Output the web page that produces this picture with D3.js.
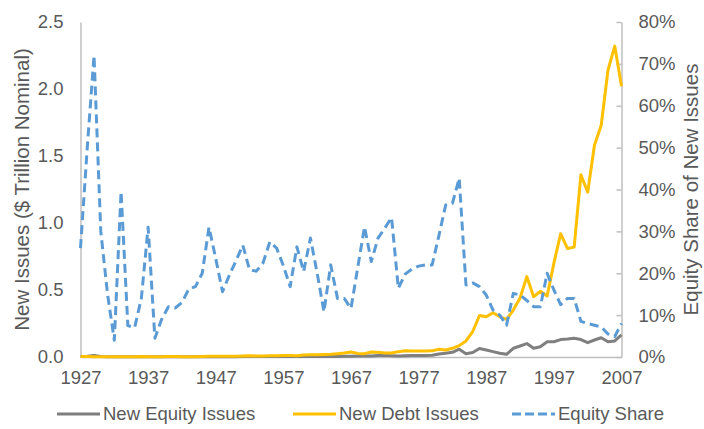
<!DOCTYPE html>
<html><head><meta charset="utf-8">
<script src="https://cdn.jsdelivr.net/npm/d3@7"></script>
<style>body{margin:0;background:#fff}svg{display:block}text{font-family:"Liberation Sans",Arial,sans-serif;fill:#595959}</style>
</head><body><svg id="c" width="704" height="429"></svg>
<script>
const startYear = 1927;
const xTickLabels = [1927,1937,1947,1957,1967,1977,1987,1997,2007];
const leftTicks = [0,0.5,1.0,1.5,2.0,2.5];
const rightTicks = [0,0.1,0.2,0.3,0.4,0.5,0.6,0.7,0.8];
const seriesNames = ["New Equity Issues","New Debt Issues","Equity Share"];
// New equity issues ($ trillion), 1927-2007
const equityIssues = [0.003,0.006,0.012,0.004,0.002,0.001,0.001,0.001,0.001,0.001,
 0.001,0.001,0.001,0.001,0.001,0.001,0.001,0.001,0.001,0.002,
 0.002,0.002,0.002,0.002,0.003,0.003,0.003,0.003,0.003,0.003,
 0.003,0.003,0.003,0.003,0.004,0.004,0.004,0.004,0.004,0.005,
 0.005,0.007,0.009,0.008,0.012,0.013,0.010,0.007,0.010,0.011,
 0.011,0.012,0.013,0.022,0.028,0.035,0.058,0.025,0.033,0.063,
 0.052,0.040,0.028,0.020,0.065,0.082,0.100,0.065,0.077,0.114,
 0.114,0.130,0.134,0.140,0.130,0.107,0.127,0.144,0.114,0.120,
 0.165];
// New debt issues ($ trillion), 1927-2007
const debtIssues = [0.003,0.003,0.002,0.002,0.002,0.001,0.001,0.001,0.002,0.003,
 0.002,0.002,0.002,0.003,0.003,0.002,0.001,0.002,0.004,0.005,
 0.005,0.006,0.006,0.005,0.008,0.009,0.008,0.008,0.009,0.009,
 0.011,0.011,0.010,0.015,0.016,0.017,0.018,0.020,0.025,0.030,
 0.037,0.027,0.025,0.037,0.036,0.030,0.030,0.040,0.046,0.045,
 0.045,0.045,0.046,0.058,0.052,0.065,0.085,0.120,0.190,0.310,
 0.300,0.330,0.300,0.280,0.350,0.440,0.600,0.450,0.490,0.455,
 0.700,0.920,0.810,0.820,1.360,1.230,1.580,1.730,2.140,2.320,
 2.020];
// Equity share of new issues, 1927-2007
const equityShare = [0.26,0.50,0.72,0.30,0.15,0.04,0.395,0.075,0.07,0.14,
 0.31,0.045,0.09,0.12,0.117,0.13,0.162,0.168,0.20,0.31,
 0.235,0.156,0.195,0.23,0.267,0.208,0.205,0.225,0.275,0.26,
 0.218,0.168,0.263,0.204,0.284,0.20,0.108,0.22,0.14,0.14,
 0.116,0.214,0.311,0.228,0.284,0.308,0.333,0.164,0.198,0.21,
 0.217,0.22,0.22,0.29,0.363,0.367,0.427,0.172,0.177,0.168,
 0.148,0.112,0.10,0.076,0.152,0.148,0.135,0.12,0.12,0.20,
 0.16,0.125,0.14,0.14,0.085,0.08,0.076,0.072,0.055,0.049,
 0.08];

const svg = d3.select("#c");
const L = 80.5, R = 621.5, T = 22, B = 357;
const x = d3.scaleLinear().domain([startYear, startYear + equityIssues.length - 1]).range([L, R]);
const yL = d3.scaleLinear().domain([0, 2.5]).range([B, T]);
const yR = d3.scaleLinear().domain([0, 0.8]).range([B, T]);
const axisColor = "#BFBFBF";

// axes
const gx = svg.append("g").attr("transform", `translate(0,${B})`)
  .call(d3.axisBottom(x).tickValues(xTickLabels).tickFormat(d3.format("d")).tickSize(0).tickPadding(14));
const gl = svg.append("g").attr("transform", `translate(${L},0)`)
  .call(d3.axisLeft(yL).tickValues(leftTicks).tickFormat(d3.format(".1f")).tickSize(0).tickPadding(17));
const gr = svg.append("g").attr("transform", `translate(${R},0)`)
  .call(d3.axisRight(yR).tickValues(rightTicks).tickFormat(d3.format(".0%")).tickSizeInner(-5).tickSizeOuter(0).tickPadding(17));
[gx, gl, gr].forEach(g => {
  g.selectAll(".domain").attr("stroke", axisColor).attr("stroke-width", 1.5);
  g.selectAll(".tick line").attr("stroke", axisColor).attr("stroke-width", 1.5);
  g.selectAll("text").attr("font-size", 18.5).attr("fill", "#595959").attr("font-family", "Liberation Sans, Arial, sans-serif");
});

// axis titles
svg.append("text").attr("transform", `translate(29,${(T+B)/2}) rotate(-90)`)
  .attr("text-anchor", "middle").attr("font-size", 20.5).text("New Issues ($ Trillion Nominal)");
svg.append("text").attr("transform", `translate(698,${(T+B)/2}) rotate(-90)`)
  .attr("text-anchor", "middle").attr("font-size", 20.5).text("Equity Share of New Issues");

// lines
const lineL = d3.line().x((d, i) => x(startYear + i)).y(d => yL(d));
const lineR = d3.line().x((d, i) => x(startYear + i)).y(d => yR(d));
svg.append("path").datum(equityIssues).attr("d", lineL).attr("fill", "none")
  .attr("stroke", "#7F7F7F").attr("stroke-width", 3).attr("stroke-linejoin", "round");
svg.append("path").datum(debtIssues).attr("d", lineL).attr("fill", "none")
  .attr("stroke", "#FFC000").attr("stroke-width", 3).attr("stroke-linejoin", "round");
svg.append("path").datum(equityShare).attr("d", lineR).attr("fill", "none")
  .attr("stroke", "#5B9BD5").attr("stroke-width", 3).attr("stroke-dasharray", "9,5").attr("stroke-linejoin", "round");

// legend
const legend = [
  {name: seriesNames[0], color: "#7F7F7F", dash: null, x: 57},
  {name: seriesNames[1], color: "#FFC000", dash: null, x: 293},
  {name: seriesNames[2], color: "#5B9BD5", dash: "9,4", x: 512}
];
const lg = svg.append("g");
legend.forEach(d => {
  lg.append("line").attr("x1", d.x).attr("x2", d.x + 43).attr("y1", 414).attr("y2", 414)
    .attr("stroke", d.color).attr("stroke-width", 3).attr("stroke-dasharray", d.dash);
  lg.append("text").attr("x", d.x + 46).attr("y", 414).attr("dy", "0.35em")
    .attr("font-size", 18.5).text(d.name);
});
</script></body></html>
